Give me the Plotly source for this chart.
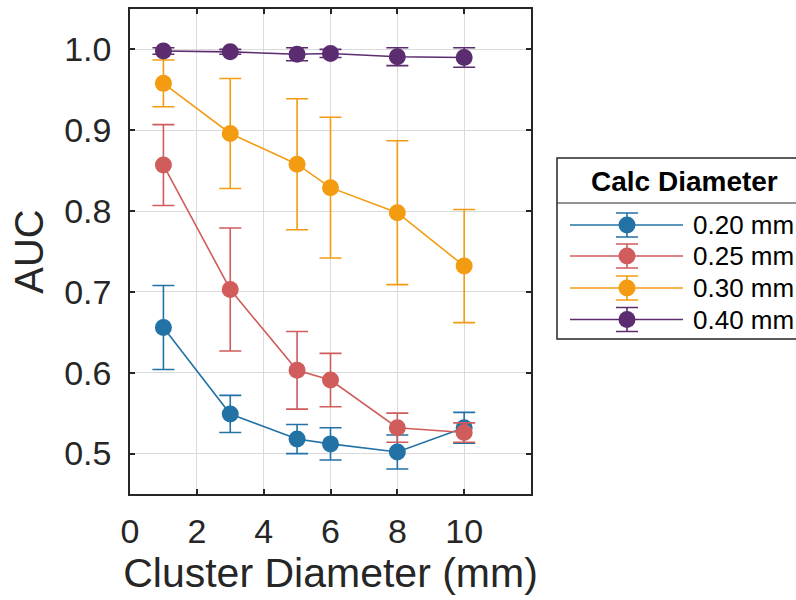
import plotly.graph_objects as go

# ---------------- data ----------------
cluster_diam = [1, 3, 5, 6, 8, 10]
series_names = ["0.20 mm", "0.25 mm", "0.30 mm", "0.40 mm"]
auc_020 = [0.656, 0.549, 0.518, 0.512, 0.502, 0.532]
err_020 = [0.052, 0.023, 0.018, 0.020, 0.021, 0.019]
auc_025 = [0.857, 0.703, 0.603, 0.591, 0.532, 0.526]
err_025 = [0.050, 0.076, 0.048, 0.033, 0.018, 0.012]
auc_030 = [0.958, 0.896, 0.858, 0.829, 0.798, 0.732]
err_030 = [0.029, 0.068, 0.081, 0.087, 0.089, 0.070]
auc_040 = [0.998, 0.997, 0.994, 0.995, 0.991, 0.990]
err_040 = [0.004, 0.003, 0.008, 0.005, 0.011, 0.012]
x_ticks = [0, 2, 4, 6, 8, 10]
y_ticks = [0.5, 0.6, 0.7, 0.8, 0.9, 1.0]
y_tick_text = ["0.5", "0.6", "0.7", "0.8", "0.9", "1.0"]

colors = ["#2372a6", "#d05c5c", "#f39c12", "#5b2c6f"]
all_auc = [auc_020, auc_025, auc_030, auc_040]
all_err = [err_020, err_025, err_030, err_040]

FONT = "Liberation Sans, Arial, Helvetica, sans-serif"
AX = "#262626"

# figure pixel geometry
W, H = 796, 600
ML, MR, MT, MB = 130, 0, 9, 106
PW = W - ML - MR
PH = H - MT - MB
plot_right = 531

def px_x(p):
    return (p - ML) / PW

def px_y(p):
    return (H - MB - p) / PH

fig = go.Figure()

for name, y, e, c in zip(series_names, all_auc, all_err, colors):
    fig.add_trace(go.Scatter(
        x=cluster_diam, y=y, name=name, mode="lines+markers",
        line=dict(color=c, width=1.6),
        marker=dict(color=c, size=17, line=dict(width=0)),
        error_y=dict(type="data", array=e, visible=True, color=c,
                     thickness=1.6, width=11),
        showlegend=False, cliponaxis=False,
    ))

# ---------------- custom legend (drawn on an overlay axis in pixel units) ----
leg_left, leg_top, leg_bottom, leg_sep = 557, 158, 339, 203
row_y = [225, 256, 288, 319.5]
for name, c, ry in zip(series_names, colors, row_y):
    fig.add_trace(go.Scatter(
        x=[570, 683], y=[ry, ry], mode="lines", line=dict(color=c, width=1.6),
        xaxis="x2", yaxis="y2", showlegend=False, hoverinfo="skip"))
    fig.add_trace(go.Scatter(
        x=[627], y=[ry], mode="markers",
        marker=dict(color=c, size=17, line=dict(width=0)),
        error_y=dict(type="data", array=[12], visible=True, color=c,
                     thickness=1.6, width=11),
        xaxis="x2", yaxis="y2", showlegend=False, hoverinfo="skip",
        cliponaxis=False))
    fig.add_annotation(x=691, y=ry, xref="x2", yref="y2", text=name,
                       showarrow=False, xanchor="left", yanchor="middle",
                       font=dict(family=FONT, size=26, color="#000000"))

fig.add_annotation(x=684, y=(leg_top + leg_sep) / 2 + 1, xref="x2", yref="y2",
                   text="<b>Calc Diameter</b>", showarrow=False,
                   xanchor="center", yanchor="middle",
                   font=dict(family=FONT, size=28, color="#000000"))

fig.add_shape(type="rect", xref="paper", yref="paper",
              x0=px_x(leg_left), x1=px_x(830), y0=px_y(leg_bottom), y1=px_y(leg_top),
              line=dict(color=AX, width=1.5), fillcolor="rgba(0,0,0,0)", layer="below")
fig.add_shape(type="line", xref="paper", yref="paper",
              x0=px_x(leg_left), x1=px_x(830), y0=px_y(leg_sep), y1=px_y(leg_sep),
              line=dict(color=AX, width=1.2))

axis_common = dict(
    showline=True, linecolor=AX, linewidth=1.5, mirror="ticks",
    ticks="inside", ticklen=5, tickwidth=1.5, tickcolor=AX,
    showgrid=True, gridcolor="#dadada", gridwidth=1, zeroline=False,
    tickfont=dict(family=FONT, size=34, color=AX),
)

fig.update_layout(
    width=W, height=H,
    margin=dict(l=ML, r=MR, t=MT, b=MB),
    paper_bgcolor="white", plot_bgcolor="white",
    font=dict(family=FONT, color=AX),
    xaxis=dict(
        domain=[0, px_x(plot_right)], range=[0, 12],
        tickvals=x_ticks, ticktext=[str(v) for v in x_ticks],
        title=dict(text="Cluster Diameter (mm)", font=dict(family=FONT, size=41, color=AX),
                   standoff=10),
        ticklabelstandoff=6,
        **axis_common,
    ),
    yaxis=dict(
        domain=[0, 1], range=[0.45, 1.05],
        tickvals=y_ticks, ticktext=y_tick_text,
        title=dict(text="AUC", font=dict(family=FONT, size=40, color=AX), standoff=8),
        ticklabelstandoff=10,
        **axis_common,
    ),
    xaxis2=dict(domain=[px_x(leg_left), 1.0], range=[leg_left, W], visible=False,
                anchor="y2", fixedrange=True),
    yaxis2=dict(domain=[px_y(leg_bottom), px_y(leg_top)], range=[leg_bottom, leg_top],
                visible=False, anchor="x2", fixedrange=True),
    showlegend=False,
)

fig.write_html("out.html")
